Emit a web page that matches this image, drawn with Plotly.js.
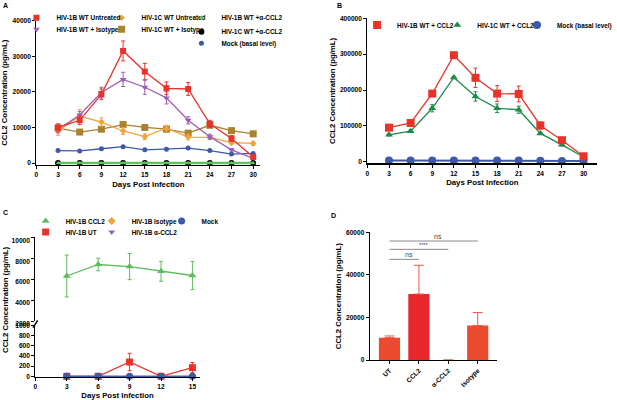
<!DOCTYPE html>
<html><head><meta charset="utf-8">
<script src="https://cdn.plot.ly/plotly-3.0.1.min.js"></script>
<style>html,body{margin:0;padding:0;background:#fff}</style>
</head><body><div id="chart" style="width:617px;height:400px"></div>
<script>
// ---------- DATA ----------
const daysA = [3,6,9,12,15,18,21,24,27,30];
const a1BUntreated    = [10000,12000,19300,31500,25700,21000,20800,11000,6900,1700];
const a1BUntreatedErr = [1000,1200,1500,2800,2300,1800,1800,1000,800,500];
const a1BIsotype      = [9500,13500,19800,23500,21300,18300,12000,7400,3700,1300];
const a1BIsotypeErr   = [1000,1000,1500,2000,2000,1700,1000,700,300,300];
const a1CUntreated    = [9000,13200,11500,9000,7400,9800,7300,7200,5700,5500];
const a1CUntreatedErr = [1200,1800,1200,1000,800,800,800,500,600,600];
const a1CIsotype      = [9800,8700,9500,10800,10000,9500,8400,10600,9100,8200];
const a1CIsotypeErr   = [700,500,600,800,600,600,500,600,500,500];
const a1BAnti         = [0,0,0,0,0,0,0,0,0,0];
const a1CAnti         = [0,0,0,0,0,0,0,0,0,0];
const aMock           = [3500,3400,4000,4600,3700,3900,4200,3500,2500,2700];

const daysB = [3,6,9,12,15,18,21,24,27,30];
const b1BCCL2    = [95000,108000,190000,297000,234000,190000,189000,101000,60000,15000];
const b1BCCL2Err = [3000,3000,5000,5000,27000,22000,22000,10000,3000,2000];
const b1CCCL2    = [75000,85000,149000,235000,182000,149000,145000,79000,47000,13000];
const b1CCCL2Err = [3000,3000,10000,3000,13000,12000,10000,3000,3000,2000];
const bMock      = [3000,3000,3000,3500,3000,3000,3000,2500,2000,2000];

const daysC = [3,6,9,12,15];
const c1BCCL2    = [6300,7400,7200,6750,6350];
const c1BCCL2Err = [2000,600,1250,950,1350];
const c1BUT      = [0,0,280,0,170];
const c1BUTErr   = [30,10,170,10,100];
const c1BIsotype = [0,0,0,0,0];
const c1BAnti    = [0,0,0,0,0];
const cMock      = [0,0,0,0,0];

const dCategories = ['UT','CCL2','α-CCL2','Isotype'];
const dValues     = [10500,31000,0,16200];
const dErr        = [800,13500,null,6100];
const dSigFrom    = ['UT','UT','UT'];
const dSigTo      = ['CCL2','α-CCL2','Isotype'];
const dSigHeight  = [47300,52000,55900];
const dSigLabel   = ['ns','****','ns'];

// ---------- LAYOUT HELPERS ----------
const W = 617, H = 400;
const X = p => p / W;
const Y = p => 1 - p / H;
function dom(p0, v0, p1, v1, r0, r1, isY) {
  const s = (p1 - p0) / (v1 - v0);
  const a = p0 + (r0 - v0) * s, b = p0 + (r1 - v0) * s;
  return isY ? [Y(a), Y(b)] : [X(a), X(b)];
}
const FAM = 'Liberation Sans, Arial, sans-serif';
const tickFont = {family: FAM, size: 6.6, color: '#000', weight: 'bold'};
const titleFont = {family: FAM, size: 7.8, color: '#000', weight: 'bold'};
const legFont = {family: FAM, size: 6.4, color: '#000', weight: 'bold'};

function axisBase(extra) {
  return Object.assign({
    showgrid: false, zeroline: false, showline: true, linecolor: '#000', linewidth: 1.1,
    ticks: 'outside', ticklen: 3, tickwidth: 1, tickcolor: '#000', tickfont: tickFont,
    tickformat: 'd', fixedrange: true
  }, extra);
}

const layout = {
  width: W, height: H, margin: {l: 0, r: 0, t: 0, b: 0},
  paper_bgcolor: '#fff', plot_bgcolor: 'rgba(0,0,0,0)',
  showlegend: true, annotations: [], shapes: []
};

// Panel A
layout.xaxis = axisBase({domain: dom(36.7, 0, 255.7, 30, 0, 31), range: [0, 31], dtick: 3, tick0: 0, anchor: 'y',
  title: {text: 'Days Post Infection', font: titleFont, standoff: 4}});
layout.yaxis = axisBase({domain: dom(163, 0, 20.7, 40000, -500, 40000, true), range: [-500, 40000], tickvals: [0,10000,20000,30000,40000], anchor: 'x',
  title: {text: 'CCL2 Concentration (pg/mL)', font: titleFont, standoff: 3}});
// Panel B
layout.xaxis2 = axisBase({domain: dom(371, 0, 589.3, 30, 0, 31.9), range: [0, 31.9], dtick: 3, tick0: 0, anchor: 'y2',
  title: {text: 'Days Post Infection', font: titleFont, standoff: 4}});
layout.yaxis2 = axisBase({domain: dom(161.7, 0, 18.3, 400000, -5000, 400000, true), range: [-5000, 400000], tickvals: [0,100000,200000,300000,400000], anchor: 'x2',
  title: {text: 'CCL2 Concentration (pg/mL)', font: titleFont, standoff: 3}});
// Panel C (broken y axis: lower 0-1000, upper 2000-10000)
layout.xaxis3 = axisBase({domain: dom(35.7, 0, 194.3, 15, 0, 15.7), range: [0, 15.7], dtick: 3, tick0: 0, anchor: 'y3',
  title: {text: 'Days Post Infection', font: titleFont, standoff: 3}});
layout.yaxis3 = axisBase({domain: dom(376.3, 0, 325.3, 1000, -15, 1000, true), range: [-15, 1000], tickvals: [0,200,400,600,800,1000], anchor: 'x3', ticklabelshift: -2.5});
layout.yaxis4 = axisBase({domain: dom(321, 2000, 237.3, 10000, 2000, 10000, true), range: [2000, 10000], tickvals: [2000,4000,6000,8000,10000], anchor: 'x3', ticklabelshift: 3});
// Panel D
layout.xaxis4 = axisBase({domain: dom(393.3, 0, 423, 1, -0.67, 3.66), range: [-0.67, 3.66], type: 'category', anchor: 'y5', tickangle: -45});
layout.yaxis5 = axisBase({domain: dom(360, 0, 232.3, 60000, 0, 60000, true), range: [0, 60000], tickvals: [0,20000,40000,60000], anchor: 'x4',
  title: {text: 'CCL2 Concentration (pg/mL)', font: titleFont, standoff: 3}});

// legends: one per entry, positioned by text start (px) and row centre (px)
const IND = -10;
let legN = 0;
function leg(textX, rowY) {
  legN++;
  const name = legN === 1 ? 'legend' : 'legend' + legN;
  layout[name] = {x: X(textX - 40 - IND), xanchor: 'left', y: Y(rowY), yanchor: 'middle', indentation: IND,
    bgcolor: 'rgba(0,0,0,0)', borderwidth: 0, font: legFont, itemwidth: 30, itemclick: false, itemdoubleclick: false};
  return name;
}

const traces = [];
function line(x, y, err, name, color, symbol, size, xa, ya, legName, lw, errColor) {
  const t = {type: 'scatter', mode: 'lines+markers', x: x, y: y, name: name, showlegend: false,
    xaxis: xa, yaxis: ya, cliponaxis: false,
    line: {color: color, width: lw || 1.3},
    marker: {color: color, symbol: symbol, size: size}};
  if (err) t.error_y = {type: 'data', array: err, visible: true, color: errColor || color, thickness: 1, width: 2};
  traces.push(t);
  // legend entry (marker swatch only; the line is drawn by the trace above)
  traces.push({type: 'scatter', mode: 'markers', x: [null], y: [null], name: name, legend: legName,
    xaxis: xa, yaxis: ya, showlegend: true, marker: {color: color, symbol: symbol, size: Math.max(size, 5)}});
}

const RED = '#E8332B', PURPLE = '#9C5FB8', ORANGE = '#F2A13A', BROWN = '#A8822E', LGREEN = '#5CC45A', BLUE = '#3D59A8';

// Panel A traces
line(daysA, aMock, null, 'Mock (basal level)', BLUE, 'circle', 5, 'x', 'y', leg(223.3, 43.3));
line(daysA, a1CIsotype, a1CIsotypeErr, 'HIV-1C WT + Isotype', BROWN, 'square', 7, 'x', 'y', leg(142.7, 29.3));
line(daysA, a1CUntreated, a1CUntreatedErr, 'HIV-1C WT Untreated', ORANGE, 'diamond', 5, 'x', 'y', leg(142.7, 17.7));
line(daysA, a1BIsotype, a1BIsotypeErr, 'HIV-1B WT + Isotype', PURPLE, 'triangle-down', 6, 'x', 'y', leg(56.7, 29.3));
line(daysA, a1BUntreated, a1BUntreatedErr, 'HIV-1B WT Untreated', RED, 'square', 6, 'x', 'y', leg(56.7, 17.7));
line(daysA, a1CAnti, null, 'HIV-1C WT +α-CCL2', '#000', 'circle', 6, 'x', 'y', leg(223.3, 31.7));
line(daysA, a1BAnti, null, 'HIV-1B WT +α-CCL2', LGREEN, 'triangle-up', 4, 'x', 'y', leg(223.3, 17.7), 2.5);

// Panel B traces
line(daysB, bMock, null, 'Mock (basal level)', BLUE, 'circle', 8, 'x2', 'y2', leg(562.3, 25), 2);
line(daysB, b1CCCL2, b1CCCL2Err, 'HIV-1C WT + CCL2', '#1E8A48', 'triangle-up', 7, 'x2', 'y2', leg(481.7, 25));
line(daysB, b1BCCL2, b1BCCL2Err, 'HIV-1B WT + CCL2', RED, 'square', 8, 'x2', 'y2', leg(400.7, 25));

// Panel C traces
line(daysC, c1BCCL2, c1BCCL2Err, 'HIV-1B CCL2', '#5DBB5E', 'triangle-up', 7, 'x3', 'y4', leg(66, 221));
line(daysC, c1BIsotype, null, 'HIV-1B Isotype', ORANGE, 'diamond', 6, 'x3', 'y3', leg(132.7, 221));
line(daysC, c1BAnti, null, 'HIV-1B α-CCL2', PURPLE, 'triangle-down', 6, 'x3', 'y3', leg(132.7, 232));
line(daysC, c1BUT, c1BUTErr, 'HIV-1B UT', RED, 'square', 7, 'x3', 'y3', leg(66, 232));
line(daysC, cMock, null, 'Mock', BLUE, 'circle', 7, 'x3', 'y3', leg(203.3, 221));

// Panel D bars
traces.push({type: 'bar', x: dCategories, y: dValues, xaxis: 'x4', yaxis: 'y5', showlegend: false, width: 0.72,
  marker: {color: ['#EC4A2F', '#E8262B', '#E8262B', '#EC4A2F'], line: {width: 0}},
  error_y: {type: 'data', symmetric: false, array: dErr, arrayminus: dErr.map(() => 0), color: '#EE5A4A', thickness: 1, width: 5}});
// significance brackets
for (let i = 0; i < dSigFrom.length; i++) {
  traces.push({type: 'scatter', mode: 'lines', x: [dSigFrom[i], dSigTo[i]], y: [dSigHeight[i], dSigHeight[i]],
    xaxis: 'x4', yaxis: 'y5', showlegend: false, cliponaxis: false, line: {color: '#8a8a8a', width: 1}});
  const i0 = dCategories.indexOf(dSigFrom[i]), i1 = dCategories.indexOf(dSigTo[i]);
  layout.annotations.push({xref: 'x4', yref: 'y5', x: (i0 + i1) / 2 + 0.15, y: dSigHeight[i], yanchor: 'bottom', yshift: -1,
    text: dSigLabel[i], showarrow: false, font: {family: FAM, size: dSigLabel[i] === 'ns' ? 7 : 5.5, color: '#444'}});
}

// panel C y title spans both axis segments
layout.annotations.push({xref: 'paper', yref: 'paper', x: X(5), y: Y(299), xanchor: 'center', yanchor: 'middle', textangle: -90,
  text: 'CCL2 Concentration (pg/mL)', showarrow: false, font: titleFont});

// panel letters
[['A', 5.3, 5.8], ['B', 342.7, 5.8], ['C', 5.3, 212], ['D', 337, 215.5]].forEach(p => {
  layout.annotations.push({xref: 'paper', yref: 'paper', x: X(p[1]), y: Y(p[2]), xanchor: 'center', yanchor: 'middle',
    text: p[0], showarrow: false, font: {family: FAM, size: 7, color: '#000', weight: 'bold'}});
});
// axis break mark on panel C
layout.shapes.push({type: 'line', xref: 'paper', yref: 'paper', x0: X(33.3), y0: Y(327.7), x1: X(38), y1: Y(320.5), line: {color: '#000', width: 1.4}});

Plotly.newPlot('chart', traces, layout, {displayModeBar: false, staticPlot: true});
</script></body></html>
